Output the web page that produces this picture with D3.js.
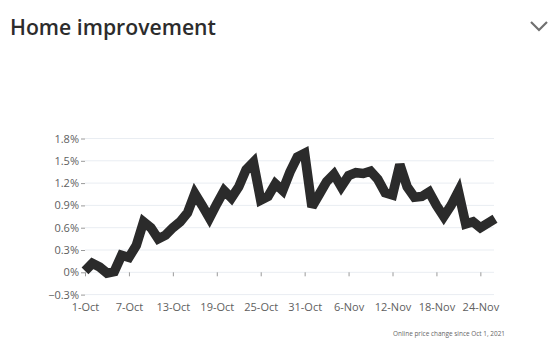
<!DOCTYPE html>
<html>
<head>
<meta charset="utf-8">
<script src="https://cdn.jsdelivr.net/npm/d3@7"></script>
<style>
  body { margin: 0; background: #fff; }
  svg { display: block; font-family: "Open Sans", "Noto Sans", sans-serif; }
</style>
</head>
<body>
<div id="chart"></div>
<script>
// data: daily online price change since Oct 1, 2021 (%)
const startDate = new Date(2021, 9, 1);
const values = [
  0.02, 0.12, 0.07, -0.01, 0.01, 0.23, 0.20, 0.36, 0.68, 0.60,
  0.45, 0.50, 0.60, 0.68, 0.80, 1.06, 0.90, 0.73, 0.92, 1.10,
  1.00, 1.15, 1.38, 1.48, 0.97, 1.02, 1.19, 1.10, 1.35, 1.55,
  1.60, 0.88, 1.05, 1.22, 1.32, 1.15, 1.30, 1.34, 1.33, 1.36,
  1.25, 1.07, 1.04, 1.45, 1.15, 1.01, 1.02, 1.08, 0.90, 0.75,
  0.90, 1.09, 0.65, 0.68, 0.60, 0.66, 0.72
];
const yTicks = [-0.3, 0, 0.3, 0.6, 0.9, 1.2, 1.5, 1.8];
const xTickLabels = ['1-Oct', '7-Oct', '13-Oct', '19-Oct', '25-Oct', '31-Oct', '6-Nov', '12-Nov', '18-Nov', '24-Nov'];
const xTickOffsets = [0, 6, 12, 18, 24, 30, 36, 42, 48, 54];

const data = values.map((v, i) => ({ date: d3.timeDay.offset(startDate, i), value: v }));
const tickDates = xTickOffsets.map((o) => d3.timeDay.offset(startDate, o));

const width = 560, height = 362;

const svg = d3.select('#chart').append('svg')
    .attr('width', width)
    .attr('height', height);

// title + chevron
svg.append('text')
    .attr('x', 10)
    .attr('y', 35)
    .attr('fill', '#2c2c2c')
    .attr('font-size', 21.2)
    .attr('font-weight', 600)
    .text('Home improvement');

svg.append('path')
    .attr('d', 'M531,22 L539,30 L547,22')
    .attr('fill', 'none')
    .attr('stroke', '#707070')
    .attr('stroke-width', 2.2);

let x = d3.scaleTime()
    .domain([startDate, data[data.length - 1].date])
    .range([85, 495]);

let y = d3.scaleLinear()
    .domain([-0.3, 1.8])
    .range([294.6, 138.5]);

// gridlines
svg.append('g')
    .selectAll('line')
    .data(yTicks)
    .enter()
    .append('line')
    .attr('x1', 85)
    .attr('x2', 494)
    .attr('y1', (d) => y(d))
    .attr('y2', (d) => y(d))
    .attr('stroke', '#e9edf2')
    .attr('stroke-width', 1);

// y axis
let yAxis = svg.append('g')
    .attr('transform', 'translate(85,0)')
    .call(d3.axisLeft(y)
      .tickValues(yTicks)
      .tickSize(4)
      .tickPadding(2)
      .tickFormat((d) => (d === 0 ? '0' : d3.format('.1f')(d)) + '%'));
yAxis.select('.domain').remove();
yAxis.selectAll('.tick line').attr('stroke', '#9a9a9a');
yAxis.selectAll('.tick text')
    .attr('fill', '#606060')
    .attr('font-size', 11)
    .attr('font-family', '"Open Sans", sans-serif');

// x axis ticks at zero line
let xAxis = svg.append('g')
    .attr('transform', `translate(0,${y(0)})`)
    .call(d3.axisBottom(x)
      .tickValues(tickDates)
      .tickSize(4)
      .tickPadding(27)
      .tickFormat((d, i) => xTickLabels[i]));
xAxis.select('.domain').remove();
xAxis.selectAll('.tick line').attr('stroke', '#9a9a9a');
xAxis.selectAll('.tick text')
    .attr('fill', '#606060')
    .attr('font-size', 11)
    .attr('font-family', '"Open Sans", sans-serif');

// line
let line = d3.line()
    .x((d) => x(d.date))
    .y((d) => y(d.value));

svg.append('path')
    .datum(data)
    .attr('d', line)
    .attr('fill', 'none')
    .attr('stroke', '#2b2b2b')
    .attr('stroke-width', 9.5)
    .attr('stroke-linejoin', 'miter')
    .attr('stroke-miterlimit', 3);

// footnote
svg.append('text')
    .attr('x', 505)
    .attr('y', 336)
    .attr('text-anchor', 'end')
    .attr('fill', '#666')
    .attr('font-size', 8)
    .attr('textLength', 112)
    .attr('lengthAdjust', 'spacingAndGlyphs')
    .text('Online price change since Oct 1, 2021');
</script>
</body>
</html>
